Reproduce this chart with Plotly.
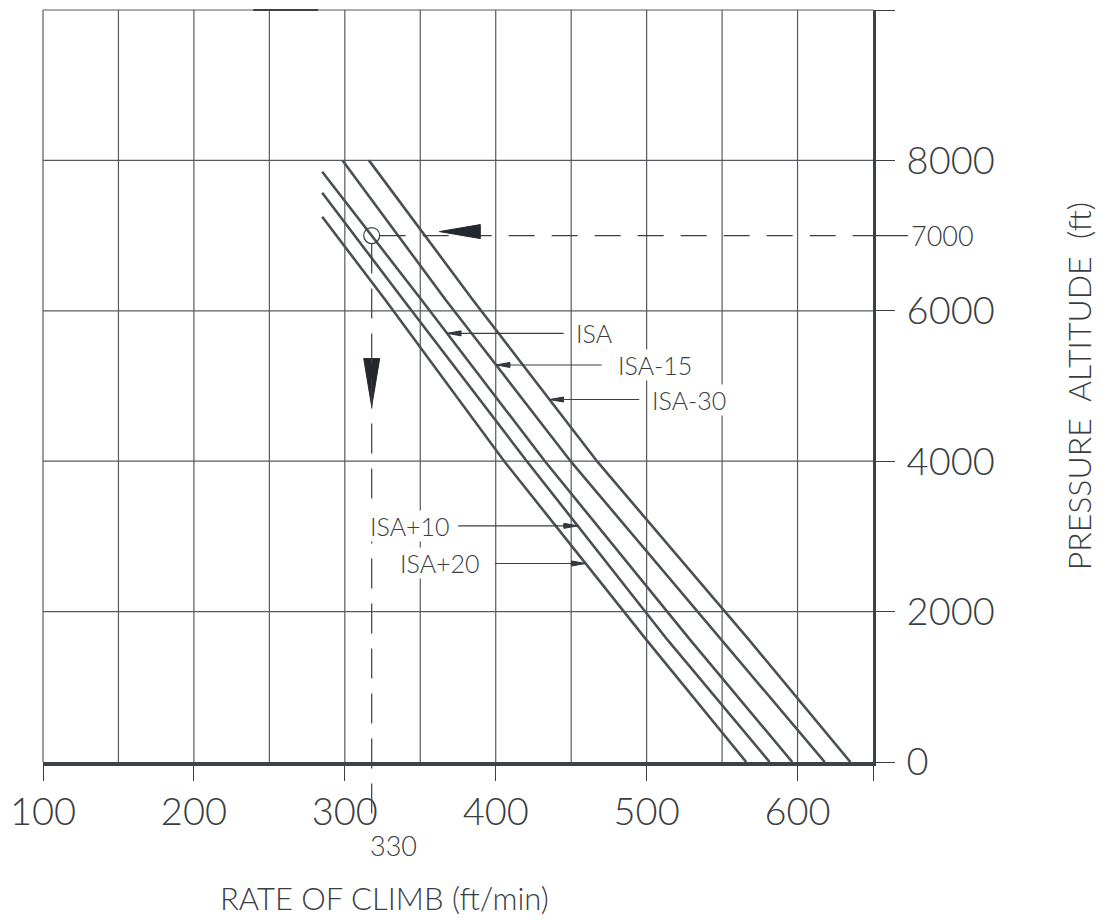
import numpy as np
import plotly.graph_objects as go

# ---------------- data ----------------
series_names = ["ISA+20", "ISA+10", "ISA", "ISA-15", "ISA-30"]

alt_isa_p20 = [7250, 6140, 3990, 1620, 0]
roc_isa_p20 = [285, 327, 406, 500, 566]
alt_isa_p10 = [7570, 6140, 3990, 1620, 0]
roc_isa_p10 = [285, 339, 421, 514, 581.5]
alt_isa = [7850, 6140, 3990, 1620, 0]
roc_isa = [285, 351, 433, 529, 596.5]
alt_isa_m15 = [8000, 6140, 3990, 1620, 0]
roc_isa_m15 = [298.5, 367, 450, 550, 618]
alt_isa_m30 = [8000, 6140, 3990, 1620, 0]
roc_isa_m30 = [316, 385, 467.5, 568, 635]

series_alt = [alt_isa_p20, alt_isa_p10, alt_isa, alt_isa_m15, alt_isa_m30]
series_roc = [roc_isa_p20, roc_isa_p10, roc_isa, roc_isa_m15, roc_isa_m30]

label_names = ["ISA", "ISA-15", "ISA-30", "ISA+10", "ISA+20"]
label_alt = [5700, 5280, 4820, 3140, 2640]

x_tick_vals = [100, 200, 300, 400, 500, 600]
x_grid_vals = [150, 200, 250, 300, 350, 400, 450, 500, 550, 600]
y_tick_vals = [0, 2000, 4000, 6000, 8000]
y_grid_vals = [2000, 4000, 6000, 8000]
x_range = [100, 650]
y_range = [0, 10000]

example_alt = 7000
example_label = "330"

x_title = "RATE OF CLIMB (ft/min)"
y_title = "PRESSURE\u00a0 ALTITUDE\u00a0 (ft)"

# ---------------- layout geometry / style ----------------
W, H = 1106, 922
ML, MR, MT, MB = 40, 233, 10, 160
PW, PH = W - ML - MR, H - MT - MB
KX = PW / (x_range[1] - x_range[0])     # px per ft/min
KY = PH / (y_range[1] - y_range[0])     # px per ft

label_side = [1, 1, 1, -1, -1]
label_leader_px = [117, 106, 90, 120, 91]
label_gap_px = [11, 15, 12, 7, 14]

INK = "#3a3f45"
LINE = "#4b5056"
GRID = "#565a60"
TEXT = "#3a3d42"
FONT = "Lato, Roboto, 'Open Sans', sans-serif"


def dxr(px):
    return px / KX


def dya(px):  # px measured downward
    return -px / KY


def rpaper(r):
    return (r - x_range[0]) / (x_range[1] - x_range[0])


def apaper(a):
    return (a - y_range[0]) / (y_range[1] - y_range[0])


def roc_at(name, alt):
    i = series_names.index(name)
    return float(np.interp(alt, series_alt[i][::-1], series_roc[i][::-1]))


ex_roc = roc_at("ISA", example_alt)

fig = go.Figure()

# performance lines
for name, a, r in zip(series_names, series_alt, series_roc):
    fig.add_trace(go.Scatter(x=r, y=a, mode="lines", name=name,
                             line=dict(color=LINE, width=2.6),
                             hoverinfo="skip", showlegend=False))

# example: dashed horizontal guide from the read point to the altitude scale
fig.add_trace(go.Scatter(x=[ex_roc + dxr(8), x_range[1]], y=[example_alt, example_alt],
                         mode="lines", line=dict(color=INK, width=1.2, dash="26px,17px"),
                         hoverinfo="skip", showlegend=False))

# circle at reading point
fig.add_trace(go.Scatter(x=[ex_roc], y=[example_alt], mode="markers",
                         marker=dict(symbol="circle-open", size=16, color=INK,
                                     line=dict(width=1.2, color=INK)),
                         cliponaxis=False, hoverinfo="skip", showlegend=False))


def tri_h(tip_r, tip_a, length_px, half_px, direction):
    """triangle whose tip is at (tip_r, tip_a) and base extends `direction` in x"""
    br = tip_r + direction * dxr(length_px)
    return [tip_r, br, br, tip_r], [tip_a, tip_a + dya(-half_px), tip_a + dya(half_px), tip_a]


# big horizontal arrow (pointing left) on the 7000 ft guide
tip_r = ex_roc + dxr(68)
tip_a = example_alt + dya(-4)
hx, hy = tri_h(tip_r, tip_a, 41, 7, 1)
fig.add_trace(go.Scatter(x=hx, y=hy, mode="lines", fill="toself", fillcolor="#23282e",
                         line=dict(color="#23282e", width=1), hoverinfo="skip", showlegend=False))

# big vertical arrow (pointing down) on the vertical guide
vt_a = example_alt + dya(171)
vb_a = example_alt + dya(123)
vx = [ex_roc, ex_roc - dxr(8), ex_roc + dxr(8), ex_roc]
vy = [vt_a, vb_a, vb_a, vt_a]
fig.add_trace(go.Scatter(x=vx, y=vy, mode="lines", fill="toself", fillcolor="#23282e",
                         line=dict(color="#23282e", width=1), hoverinfo="skip", showlegend=False))

# line labels with leaders and small arrowheads
annotations = []
for name, a, side, lead, gap in zip(label_names, label_alt, label_side, label_leader_px, label_gap_px):
    r = roc_at(name, a)
    ax_, ay_ = tri_h(r, a, 14, 2.5, side)
    fig.add_trace(go.Scatter(x=ax_, y=ay_, mode="lines", fill="toself", fillcolor="#2e3338",
                             line=dict(color="#2e3338", width=1), hoverinfo="skip", showlegend=False))
    fig.add_trace(go.Scatter(x=[r, r + side * dxr(lead)], y=[a, a], mode="lines",
                             line=dict(color=INK, width=1.1), hoverinfo="skip", showlegend=False))
    annotations.append(dict(x=r + side * dxr(lead + gap), y=a, xref="x", yref="y",
                            text=name, showarrow=False,
                            xanchor="left" if side > 0 else "right", yanchor="middle",
                            bgcolor="white", borderpad=0,
                            font=dict(family=FONT, size=25, color=TEXT, weight=300)))

# ---------------- shapes: grid, borders, guides ----------------
shapes = []
for v in x_grid_vals:
    shapes.append(dict(type="line", xref="x", yref="paper", x0=v, x1=v, y0=0, y1=1,
                       line=dict(color=GRID, width=1.2), layer="below"))
for v in y_grid_vals:
    shapes.append(dict(type="line", xref="paper", yref="y", x0=0, x1=1, y0=v, y1=v,
                       line=dict(color=GRID, width=1.2), layer="below"))
# left and top border
shapes.append(dict(type="line", xref="paper", yref="paper", x0=0, x1=0, y0=0, y1=1,
                   line=dict(color=GRID, width=1.2), layer="below"))
shapes.append(dict(type="line", xref="paper", yref="paper", x0=0, x1=1, y0=1, y1=1,
                   line=dict(color=GRID, width=1.2), layer="below"))
shapes.append(dict(type="line", xref="paper", yref="paper", x0=(251 - ML) / PW, x1=(316 - ML) / PW,
                   y0=1, y1=1, line=dict(color="#3c4147", width=2), layer="below"))
# vertical dashed guide from reading point down past the axis
shapes.append(dict(type="line", xref="paper", yref="paper",
                   x0=rpaper(ex_roc), x1=rpaper(ex_roc),
                   y0=apaper(example_alt) - 8 / PH, y1=-(817 - (MT + PH)) / PH,
                   line=dict(color=INK, width=1.2, dash="30px,15px")))
# lead line of the 7000 label
shapes.append(dict(type="line", xref="paper", yref="paper",
                   x0=1 + 3 / PW, x1=1 + 35 / PW, y0=apaper(example_alt), y1=apaper(example_alt),
                   line=dict(color=INK, width=1.2)))

annotations += [
    dict(x=1 + 36 / PW, y=apaper(example_alt), xref="paper", yref="paper", text=str(example_alt),
         showarrow=False, xanchor="left", yanchor="middle",
         font=dict(family=FONT, size=27, color=TEXT, weight=300)),
    dict(x=rpaper(ex_roc), y=-(845 - (MT + PH)) / PH, xref="paper", yref="paper", text=example_label,
         showarrow=False, xanchor="left", yanchor="middle", xshift=-4,
         font=dict(family=FONT, size=27, color=TEXT, weight=300)),
    dict(x=(383 - ML) / PW, y=-(898 - (MT + PH)) / PH, xref="paper", yref="paper",
         text=x_title, showarrow=False, xanchor="center", yanchor="middle",
         font=dict(family=FONT, size=31, color=TEXT, weight=300)),
    dict(x=(1079 - ML) / PW, y=((MT + PH) - 386) / PH, xref="paper", yref="paper",
         text=y_title, showarrow=False, textangle=-90,
         xanchor="center", yanchor="middle",
         font=dict(family=FONT, size=32, color=TEXT, weight=300)),
]

fig.update_layout(
    width=W, height=H,
    margin=dict(l=ML, r=MR, t=MT, b=MB, pad=0),
    paper_bgcolor="white", plot_bgcolor="rgba(0,0,0,0)",
    showlegend=False,
    shapes=shapes, annotations=annotations,
    xaxis=dict(range=x_range, showgrid=False, zeroline=False,
               showline=True, linewidth=4, linecolor="#3d4248",
               ticks="outside", ticklen=15, tickwidth=1.2, tickcolor=INK,
               tickvals=x_tick_vals + [x_range[1]],
               ticktext=[str(v) for v in x_tick_vals] + [""],
               ticklabelstandoff=-2,
               tickfont=dict(family=FONT, size=38, color=TEXT, weight=300)),
    yaxis=dict(range=y_range, side="right", showgrid=False, zeroline=False,
               showline=True, linewidth=3, linecolor="#3d4248",
               ticks="outside", ticklen=19, tickwidth=1.2, tickcolor=INK,
               tickvals=y_tick_vals + [y_range[1]],
               ticktext=[str(v) for v in y_tick_vals] + [""],
               ticklabelstandoff=4,
               tickfont=dict(family=FONT, size=38, color=TEXT, weight=300)),
)

fig.write_html("out.html")
